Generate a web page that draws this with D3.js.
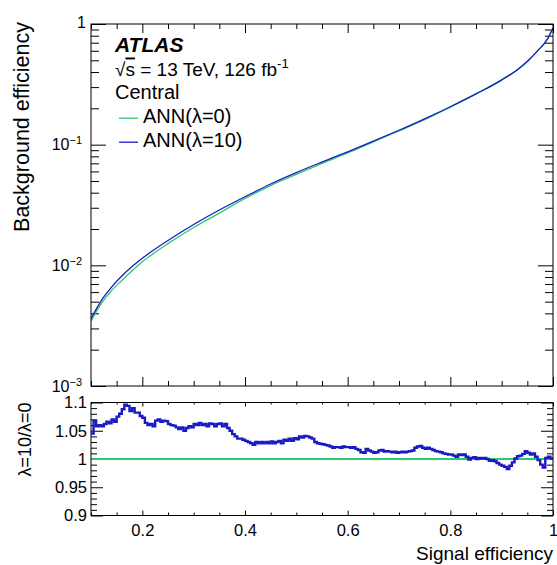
<!DOCTYPE html>
<html>
<head>
<meta charset="utf-8">
<script src="https://cdn.jsdelivr.net/npm/d3@7"></script>
<style>
  html, body { margin: 0; padding: 0; background: #fff; }
  svg { display: block; }
  text { font-family: "Liberation Sans", Arial, Helvetica, sans-serif; fill: #000; }
</style>
</head>
<body>
<svg id="chart" width="557" height="565"></svg>
<script>
// ---------------- data ----------------
const sigEff = [0.10, 0.12, 0.14, 0.16, 0.18, 0.20, 0.22, 0.25, 0.30, 0.35, 0.40, 0.45, 0.50,
                0.55, 0.60, 0.65, 0.70, 0.75, 0.80, 0.85, 0.90, 0.93, 0.95, 0.97, 0.99, 1.00];
const bkgLambda0 = [0.00345, 0.00481, 0.00618, 0.00748, 0.00900, 0.01069, 0.01239, 0.01512, 0.02057,
                    0.02710, 0.03585, 0.04583, 0.05666, 0.07000, 0.08550, 0.10553, 0.13014, 0.16090,
                    0.20470, 0.26330, 0.34720, 0.41430, 0.48610, 0.60000, 0.75800, 0.92600];
const bkgLambda10 = [0.00361, 0.00510, 0.00660, 0.00815, 0.00976, 0.01144, 0.01320, 0.01607, 0.02180,
                     0.02873, 0.03700, 0.04720, 0.05870, 0.07180, 0.08730, 0.10680, 0.13170, 0.16380,
                     0.20630, 0.26330, 0.34300, 0.41640, 0.49140, 0.59900, 0.76100, 0.92600];

// ratio histogram lambda=10 / lambda=0, bins of width 0.005 from 0.1 to 1.0
const ratioBinLow = 0.1, ratioBinHigh = 1.0;
const ratioValues = [
  1.045, 1.068, 1.058, 1.060, 1.058, 1.062, 1.066, 1.063, 1.070, 1.066,
  1.075, 1.080, 1.088, 1.096, 1.094, 1.085, 1.090, 1.082, 1.082, 1.076,
  1.073, 1.064, 1.060, 1.062, 1.058, 1.068, 1.070, 1.066, 1.068, 1.067,
  1.062, 1.060, 1.059, 1.056, 1.053, 1.056, 1.050, 1.055, 1.058, 1.056,
  1.062, 1.060, 1.064, 1.060, 1.062, 1.058, 1.063, 1.062, 1.058, 1.062,
  1.063, 1.058, 1.062, 1.055, 1.050, 1.044, 1.040, 1.036, 1.036, 1.034,
  1.032, 1.030, 1.028, 1.025, 1.030, 1.028, 1.030, 1.028, 1.030, 1.028,
  1.031, 1.028, 1.030, 1.032, 1.028, 1.034, 1.032, 1.036, 1.032, 1.037,
  1.035, 1.040, 1.038, 1.041, 1.040, 1.038, 1.036, 1.030, 1.028,
  1.027, 1.026, 1.025, 1.024, 1.022, 1.020, 1.021, 1.021, 1.020, 1.022,
  1.021, 1.021, 1.020, 1.021, 1.018, 1.016, 1.012, 1.011, 1.018, 1.015,
  1.013, 1.011, 1.012, 1.015, 1.016, 1.013, 1.014, 1.013, 1.012, 1.013,
  1.011, 1.012, 1.013, 1.012, 1.013, 1.014, 1.015, 1.020, 1.022, 1.023,
  1.020, 1.018, 1.020, 1.018, 1.016, 1.014, 1.013, 1.012, 1.010, 1.009,
  1.008, 1.008, 1.006, 1.004, 1.008, 1.007, 1.008, 1.004, 0.999, 1.002,
  1.003, 1.000, 1.002, 1.001, 1.002, 1.000, 0.997, 0.998, 0.996, 0.993,
  0.990, 0.988, 0.986, 0.982, 0.988, 0.994, 1.001, 1.005, 1.006, 1.009,
  1.014, 1.011, 1.008, 1.010, 1.004, 0.998, 0.990, 0.985, 1.002, 1.004,
  1.001
];
const refLine = [1.0, 1.0];

const xTickLabels = [0.2, 0.4, 0.6, 0.8, 1];
const yTopMajor = [1e-3, 1e-2, 1e-1, 1];
const yRatioMajor = [0.9, 0.95, 1, 1.05, 1.1];
const legendEntries = ["ANN(λ=0)", "ANN(λ=10)"];

// ---------------- layout ----------------
const L = 91, R = 553;
const topT = 24, topB = 386;
const ratT = 402.5, ratB = 515.5;
const green = "#2bc970", blue = "#1a1ac4";
const font = '"Liberation Sans", Arial, Helvetica, sans-serif';

const svg = d3.select("#chart");
const x = d3.scaleLinear([0.1, 1], [L, R]);
const yTop = d3.scaleLog([1e-3, 1], [topB, topT]);
const yR = d3.scaleLinear([0.9, 1.1], [ratB, ratT]);

const defs = svg.append("defs");
defs.append("clipPath").attr("id", "clipTop").append("rect")
  .attr("x", L).attr("y", topT).attr("width", R - L).attr("height", topB - topT);
defs.append("clipPath").attr("id", "clipRat").append("rect")
  .attr("x", L).attr("y", ratT).attr("width", R - L).attr("height", ratB - ratT);

function styleAxis(g) {
  g.select(".domain").remove();
  g.selectAll("line").attr("stroke", "#000").attr("stroke-width", 1);
  g.selectAll("text").style("font-family", font);
}

// minor tick helpers
const xMinor = d3.range(0.1, 1.0001, 0.05).map(v => +v.toFixed(3)).filter(v => Math.abs(v * 5 - Math.round(v * 5)) > 1e-6);
const yTopMinor = [];
[1e-3, 1e-2, 1e-1].forEach(d => { for (let k = 2; k <= 9; k++) yTopMinor.push(d * k); });
const yRatMinor = d3.range(0.9, 1.1001, 0.01).map(v => +v.toFixed(3)).filter(v => Math.abs(v * 20 - Math.round(v * 20)) > 1e-6);

// ---------------- top panel ----------------
svg.append("g").attr("transform", `translate(0,${topB})`)
  .call(d3.axisBottom(x).tickValues(xTickLabels).tickSizeInner(-9).tickSizeOuter(0).tickFormat(""))
  .call(styleAxis);
svg.append("g").attr("transform", `translate(0,${topB})`)
  .call(d3.axisBottom(x).tickValues(xMinor).tickSizeInner(-5).tickSizeOuter(0).tickFormat(""))
  .call(styleAxis);
svg.append("g").attr("transform", `translate(0,${topT})`)
  .call(d3.axisTop(x).tickValues(xTickLabels).tickSizeInner(-9).tickSizeOuter(0).tickFormat(""))
  .call(styleAxis);
svg.append("g").attr("transform", `translate(0,${topT})`)
  .call(d3.axisTop(x).tickValues(xMinor).tickSizeInner(-5).tickSizeOuter(0).tickFormat(""))
  .call(styleAxis);

const yTopAxis = svg.append("g").attr("transform", `translate(${L},0)`)
  .call(d3.axisLeft(yTop).tickValues(yTopMajor).tickSizeInner(-15).tickSizeOuter(0).tickPadding(5)
    .tickFormat(d => d === 1 ? "1" : "10|" + Math.round(Math.log10(d))))
  .call(styleAxis);
yTopAxis.selectAll("text").style("font-size", "16px").each(function(d) {
  const t = d3.select(this);
  const s = t.text();
  if (s.includes("|")) {
    const exp = s.split("|")[1];
    t.text(null);
    t.append("tspan").text("10");
    t.append("tspan").attr("dy", "-0.55em").style("font-size", "11px").text("\u2212" + String(-exp));
    t.attr("dx", "-4");
  } else {
    t.attr("dy", "0.2em");
  }
});
svg.append("g").attr("transform", `translate(${L},0)`)
  .call(d3.axisLeft(yTop).tickValues(yTopMinor).tickSizeInner(-8).tickSizeOuter(0).tickFormat(""))
  .call(styleAxis);
svg.append("g").attr("transform", `translate(${R},0)`)
  .call(d3.axisRight(yTop).tickValues(yTopMajor).tickSizeInner(-15).tickSizeOuter(0).tickFormat(""))
  .call(styleAxis);
svg.append("g").attr("transform", `translate(${R},0)`)
  .call(d3.axisRight(yTop).tickValues(yTopMinor).tickSizeInner(-8).tickSizeOuter(0).tickFormat(""))
  .call(styleAxis);

// curves
const topLine = (vals) => d3.line()
  .x((d, i) => x(sigEff[i]))
  .y(d => yTop(d))
  .curve(d3.curveMonotoneX)(vals);
const topG = svg.append("g").attr("clip-path", "url(#clipTop)");
topG.append("path").attr("d", topLine(bkgLambda0)).attr("fill", "none")
  .attr("stroke", green).attr("stroke-width", 1.3);
topG.append("path").attr("d", topLine(bkgLambda10)).attr("fill", "none")
  .attr("stroke", blue).attr("stroke-width", 1.3);

svg.append("rect").attr("x", L).attr("y", topT).attr("width", R - L).attr("height", topB - topT)
  .attr("fill", "none").attr("stroke", "#000").attr("stroke-width", 1);

svg.append("text")
  .attr("transform", `translate(29,${topT - 2}) rotate(-90)`)
  .attr("text-anchor", "end")
  .style("font-size", "21.5px")
  .text("Background efficiency");

// legend / labels
const lg = svg.append("g");
lg.append("text").attr("x", 115).attr("y", 52)
  .style("font-size", "21px").style("font-weight", "bold").style("font-style", "italic")
  .text("ATLAS");
const t2 = lg.append("text").attr("x", 115).attr("y", 75.5).style("font-size", "19px");
t2.append("tspan").text("\u221A");
t2.append("tspan").style("text-decoration", "overline").text("s");
t2.append("tspan").text(" = 13 TeV, 126 fb");
t2.append("tspan").attr("dy", "-8").style("font-size", "13px").text("-1");
lg.append("text").attr("x", 115).attr("y", 99).style("font-size", "20px").text("Central");
const legendColors = [green, blue];
legendEntries.forEach((name, i) => {
  const yb = 122.7 + i * 24;
  lg.append("line").attr("x1", 119).attr("x2", 138).attr("y1", yb - 4.5).attr("y2", yb - 4.5)
    .attr("stroke", legendColors[i]).attr("stroke-width", 1.3);
  lg.append("text").attr("x", 143).attr("y", yb).style("font-size", "20px").text(name);
});

// ---------------- ratio panel ----------------
svg.append("g").attr("transform", `translate(0,${ratB})`)
  .call(d3.axisBottom(x).tickValues(xTickLabels).tickSizeInner(-5).tickSizeOuter(0).tickPadding(9)
    .tickFormat(d => d === 1 ? "1" : d3.format(".1f")(d)))
  .call(styleAxis)
  .selectAll("text").style("font-size", "16.5px");
svg.append("g").attr("transform", `translate(0,${ratB})`)
  .call(d3.axisBottom(x).tickValues(xMinor).tickSizeInner(-3).tickSizeOuter(0).tickFormat(""))
  .call(styleAxis);
svg.append("g").attr("transform", `translate(0,${ratT})`)
  .call(d3.axisTop(x).tickValues(xTickLabels).tickSizeInner(-4).tickSizeOuter(0).tickFormat(""))
  .call(styleAxis);
svg.append("g").attr("transform", `translate(0,${ratT})`)
  .call(d3.axisTop(x).tickValues(xMinor).tickSizeInner(-2).tickSizeOuter(0).tickFormat(""))
  .call(styleAxis);

svg.append("g").attr("transform", `translate(${L},0)`)
  .call(d3.axisLeft(yR).tickValues(yRatioMajor).tickSizeInner(-12).tickSizeOuter(0).tickPadding(4)
    .tickFormat(d => d3.format("")(d)))
  .call(styleAxis)
  .selectAll("text").style("font-size", "16.5px");
svg.append("g").attr("transform", `translate(${L},0)`)
  .call(d3.axisLeft(yR).tickValues(yRatMinor).tickSizeInner(-6).tickSizeOuter(0).tickFormat(""))
  .call(styleAxis);
svg.append("g").attr("transform", `translate(${R},0)`)
  .call(d3.axisRight(yR).tickValues(yRatioMajor).tickSizeInner(-12).tickSizeOuter(0).tickFormat(""))
  .call(styleAxis);
svg.append("g").attr("transform", `translate(${R},0)`)
  .call(d3.axisRight(yR).tickValues(yRatMinor).tickSizeInner(-6).tickSizeOuter(0).tickFormat(""))
  .call(styleAxis);

const ratG = svg.append("g").attr("clip-path", "url(#clipRat)");
ratG.append("path")
  .attr("d", d3.line().x((d, i) => x(i === 0 ? ratioBinLow : ratioBinHigh)).y(d => yR(d))(refLine))
  .attr("fill", "none").attr("stroke", green).attr("stroke-width", 2.2);

const binW = (ratioBinHigh - ratioBinLow) / ratioValues.length;
const stepPts = ratioValues.map((v, i) => [ratioBinLow + i * binW, v]);
stepPts.push([ratioBinHigh, ratioValues[ratioValues.length - 1]]);
ratG.append("path")
  .attr("d", d3.line().x(d => x(d[0])).y(d => yR(d[1])).curve(d3.curveStepAfter)(stepPts))
  .attr("fill", "none").attr("stroke", blue).attr("stroke-width", 2.4);

svg.append("rect").attr("x", L).attr("y", ratT).attr("width", R - L).attr("height", ratB - ratT)
  .attr("fill", "none").attr("stroke", "#000").attr("stroke-width", 1);

svg.append("text")
  .attr("transform", `translate(31,${ratT}) rotate(-90)`)
  .attr("text-anchor", "end")
  .style("font-size", "18px")
  .text("λ=10/λ=0");

svg.append("text").attr("x", R).attr("y", 560).attr("text-anchor", "end")
  .style("font-size", "19px").text("Signal efficiency");
</script>
</body>
</html>
